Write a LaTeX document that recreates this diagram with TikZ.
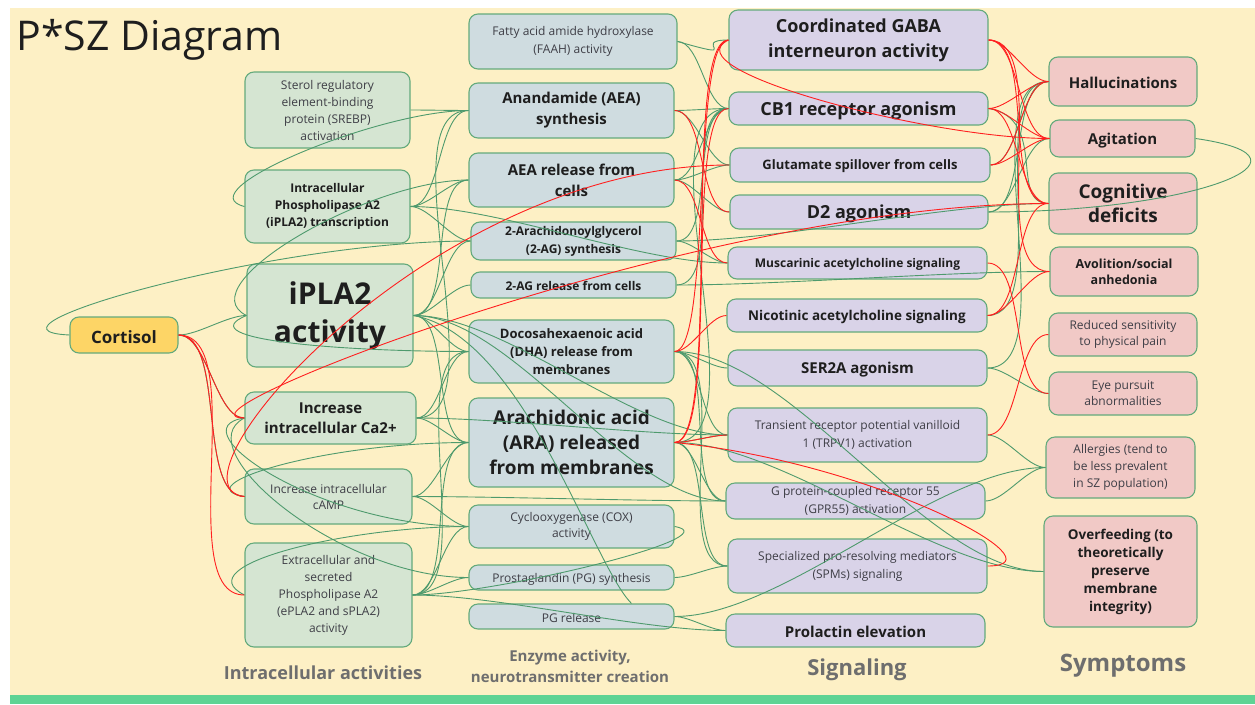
\documentclass[tikz,border=0pt]{standalone}
\usepackage{fontspec}
\setmainfont{Open Sans}
\definecolor{bgc}{HTML}{FDF0C5}
\definecolor{barc}{HTML}{5ED394}
\definecolor{bordc}{HTML}{64AA7C}
\definecolor{fa}{HTML}{D5E5D2}
\definecolor{fb}{HTML}{CFDCE0}
\definecolor{fc}{HTML}{D9D3E8}
\definecolor{fd}{HTML}{F1C9C6}
\definecolor{fcort}{HTML}{FDD566}
\definecolor{lgreen}{HTML}{4E9A6D}
\definecolor{lred}{HTML}{FF1F1F}
\definecolor{lbl}{HTML}{6E6E6E}
\definecolor{tdark}{HTML}{1E1E1E}
\definecolor{tnorm}{HTML}{3E3E46}
\newcommand{\myfs}[2]{\fontsize{#1}{#2}\selectfont}
\begin{document}
\begin{tikzpicture}[x=1pt,y=-1pt,
  box/.style={draw=bordc, line width=1.1pt, rounded corners=9pt, align=center, inner sep=2pt,
    execute at begin node={\rule{0pt}{1.0em}}},
  ca1/.style={box, fill=fa},
  cb2/.style={box, fill=fb},
  cc3/.style={box, fill=fc},
  cd4/.style={box, fill=fd},
  bt/.style={text=tdark, font=\bfseries},
  nt/.style={text=tnorm},
  gl/.style={draw=lgreen, line width=0.9pt, looseness=0.7},
  rl/.style={draw=lred, line width=0.9pt, looseness=0.7},
  collabel/.style={text=lbl, font=\bfseries, align=center}]
\useasboundingbox (0,0) rectangle (1255,704);
\fill[white] (0,0) rectangle (1255,704);
\fill[bgc] (10,8) rectangle (1255,695);
\fill[barc] (10,695) rectangle (1255,704);
\node[anchor=west, text=tdark, font=\myfs{41}{46}] (title) at (13,40) {P*SZ Diagram};

% column 1
\node[box, fill=fcort, bt, minimum width=108pt, minimum height=36pt, font=\bfseries\myfs{17}{20}] (cort) at (124,335) {Cortisol};
\node[ca1, nt, minimum width=165pt, minimum height=76pt, font=\myfs{12}{17}] (srebp) at (327.5,110) {Sterol regulatory\\element-binding\\protein (SREBP)\\activation};
\node[ca1, bt, minimum width=165pt, minimum height=73pt, font=\bfseries\myfs{12}{17}] (ipt) at (327.5,206.5) {Intracellular\\Phospholipase A2\\(iPLA2) transcription};
\node[ca1, bt, minimum width=166pt, minimum height=103pt, font=\bfseries\myfs{30}{38}] (ipa) at (330,315.5) {iPLA2\\activity};
\node[ca1, bt, minimum width=171pt, minimum height=52pt, font=\bfseries\myfs{15}{20}] (ca) at (330.5,418) {Increase\\intracellular Ca2+};
\node[ca1, nt, minimum width=167pt, minimum height=55pt, font=\myfs{12}{16}] (camp) at (328.5,496.5) {Increase intracellular\\cAMP};
\node[ca1, nt, minimum width=167pt, minimum height=104pt, font=\myfs{12}{17}] (epla) at (328.5,595) {Extracellular and\\secreted\\Phospholipase A2\\(ePLA2 and sPLA2)\\activity};
\node[collabel, font=\bfseries\myfs{18}{22}] (lab1) at (323,673) {Intracellular activities};

% column 2
\node[cb2, nt, minimum width=208pt, minimum height=55pt, font=\myfs{12}{18}] (faah) at (573,41.5) {Fatty acid amide hydroxylase\\(FAAH) activity};
\node[cb2, bt, minimum width=205pt, minimum height=55pt, font=\bfseries\myfs{15}{21}] (aeas) at (571.5,110.5) {Anandamide (AEA)\\synthesis};
\node[cb2, bt, minimum width=205pt, minimum height=54pt, font=\bfseries\myfs{15}{21}] (aear) at (571.5,180) {AEA release from\\cells};
\node[cb2, bt, minimum width=205pt, minimum height=38pt, font=\bfseries\myfs{12}{18}] (ags) at (573.5,241) {2-Arachidonoylglycerol\\(2-AG) synthesis};
\node[cb2, bt, minimum width=205pt, minimum height=26pt, font=\bfseries\myfs{12}{15}] (agr) at (573.5,285) {2-AG release from cells};
\node[cb2, bt, minimum width=205pt, minimum height=63pt, font=\bfseries\myfs{13}{18}] (dha) at (571.5,351.5) {Docosahexaenoic acid\\(DHA) release from\\membranes};
\node[cb2, bt, minimum width=205pt, minimum height=89pt, font=\bfseries\myfs{19}{25}] (ara) at (571.5,442.5) {Arachidonic acid\\(ARA) released\\from membranes};
\node[cb2, nt, minimum width=205pt, minimum height=43pt, font=\myfs{12}{16}] (cox) at (571.5,526.5) {Cyclooxygenase (COX)\\activity};
\node[cb2, nt, minimum width=205pt, minimum height=25pt, font=\myfs{12}{15}] (pgs) at (571.5,577.5) {Prostaglandin (PG) synthesis};
\node[cb2, nt, minimum width=205pt, minimum height=25pt, font=\myfs{12}{15}] (pgr) at (571.5,616.5) {PG release};
\node[collabel, font=\bfseries\myfs{15}{21}] (lab2) at (570,666) {Enzyme activity,\\neurotransmitter creation};

% column 3
\node[cc3, bt, minimum width=259pt, minimum height=60pt, font=\bfseries\myfs{18}{25}] (gaba) at (858.5,40) {Coordinated GABA\\interneuron activity};
\node[cc3, bt, minimum width=259pt, minimum height=33pt, font=\bfseries\myfs{18}{22}] (cb1) at (858.5,108.5) {CB1 receptor agonism};
\node[cc3, bt, minimum width=260pt, minimum height=34pt, font=\bfseries\myfs{13}{16}] (glu) at (860,165) {Glutamate spillover from cells};
\node[cc3, bt, minimum width=258pt, minimum height=34pt, font=\bfseries\myfs{18}{22}] (d2) at (859,212) {D2 agonism};
\node[cc3, bt, minimum width=259pt, minimum height=32pt, font=\bfseries\myfs{12}{15}] (mus) at (857.5,263) {Muscarinic acetylcholine signaling};
\node[cc3, bt, minimum width=260pt, minimum height=33pt, font=\bfseries\myfs{13.5}{16}] (nic) at (857,315.5) {Nicotinic acetylcholine signaling};
\node[cc3, bt, minimum width=259pt, minimum height=36pt, font=\bfseries\myfs{15}{18}] (ser) at (857.5,368) {SER2A agonism};
\node[cc3, nt, minimum width=259pt, minimum height=54pt, font=\myfs{12}{18}] (trpv) at (857.5,435) {Transient receptor potential vanilloid\\1 (TRPV1) activation};
\node[cc3, nt, minimum width=259pt, minimum height=36pt, font=\myfs{12}{18}] (gpr) at (855.5,501) {G protein-coupled receptor 55\\(GPR55) activation};
\node[cc3, nt, minimum width=259pt, minimum height=54pt, font=\myfs{12}{18}] (spm) at (857.5,566) {Specialized pro-resolving mediators\\(SPMs) signaling};
\node[cc3, bt, minimum width=259pt, minimum height=33pt, font=\bfseries\myfs{15}{18}] (prl) at (855.5,630.5) {Prolactin elevation};
\node[collabel, font=\bfseries\myfs{22}{26}] (lab3) at (857,670) {Signaling};

% column 4
\node[cd4, bt, minimum width=148pt, minimum height=49pt, font=\bfseries\myfs{15}{18}] (hal) at (1123,81.5) {Hallucinations};
\node[cd4, bt, minimum width=145pt, minimum height=37pt, font=\bfseries\myfs{15}{18}] (agi) at (1122.5,138.5) {Agitation};
\node[cd4, bt, minimum width=148pt, minimum height=61pt, font=\bfseries\myfs{19}{24}] (cog) at (1123,203.5) {Cognitive\\deficits};
\node[cd4, bt, minimum width=148pt, minimum height=49pt, font=\bfseries\myfs{12.5}{16}] (avo) at (1124,271.5) {Avolition/social\\anhedonia};
\node[cd4, nt, minimum width=148pt, minimum height=43pt, font=\myfs{12}{16}] (rsp) at (1123,334.5) {Reduced sensitivity\\to physical pain};
\node[cd4, nt, minimum width=148pt, minimum height=43pt, font=\myfs{12}{16}] (eye) at (1123,393.5) {Eye pursuit\\abnormalities};
\node[cd4, nt, minimum width=149pt, minimum height=61pt, font=\myfs{12}{17}] (alg) at (1120.5,467.5) {Allergies (tend to\\be less prevalent\\in SZ population)};
\node[cd4, bt, minimum width=153pt, minimum height=111pt, font=\bfseries\myfs{13.5}{18}] (ovf) at (1120.5,571.5) {Overfeeding (to\\theoretically\\preserve\\membrane\\integrity)};
\node[collabel, font=\bfseries\myfs{24}{28}] (lab4) at (1123,666) {Symptoms};

% green connectors east -> west
\foreach \a/\b in {srebp/aeas, ipt/aeas, ipt/aear, ipt/ags, ipa/aear, ipa/ags, ipa/agr, ipa/dha, ipa/ara,
  ca/aeas, ca/dha, ca/ara, camp/ara, camp/cox, epla/ara, epla/dha, epla/pgs, epla/cox,
  cort/ipa, cort/ca, cort/camp,
  ipt/mus, ipa/trpv, ca/trpv, camp/gpr, epla/prl, ipa/gpr,
  faah/cb1, aeas/cb1, aeas/glu, aear/cb1, aear/glu, aear/d2, ags/cb1, ags/mus, agr/cb1,
  dha/ser, dha/trpv, dha/gpr, dha/spm, ara/trpv, ara/gpr, ara/spm, ara/cb1, pgr/prl, pgs/spm,
  ara/ovf, pgr/alg, dha/ovf, ags/cog, agr/avo,
  d2/hal, d2/agi, ser/hal, ser/eye, trpv/alg, gpr/alg, glu/hal, nic/hal}
  \draw[gl] (\a.east) to[out=0,in=180] (\b.west);

% green loops
\draw[gl] (cort.west) .. controls +(-110,-5) and +(-200,0) .. (ags.west);
\draw[gl] (ipt.west) .. controls +(-60,-15) and +(-90,0) .. (aeas.west);
\draw[gl] (epla.west) .. controls +(-60,-30) and +(-120,0) .. (cox.west);
\draw[gl] (ipa.west) .. controls +(-60,-30) and +(-100,0) .. (aear.west);
\draw[gl] (ipa.west) .. controls +(-60,25) and +(-120,0) .. (dha.west);
\draw[gl] (ca.west) .. controls +(-70,10) and +(-150,0) .. (cox.west);
\draw[gl] (ca.west) .. controls +(-60,30) and +(-130,0) .. (pgs.west);
\draw[gl] (camp.west) .. controls +(-60,-10) and +(-150,0) .. (ara.west);
\draw[gl] (cox.east) .. controls +(60,10) and +(80,0) .. (epla.east);
\draw[gl] (agi.east) .. controls +(140,20) and +(200,0) .. (d2.east);
\draw[gl] (faah.east) .. controls +(70,20) and +(-40,0) .. (gaba.west);
\draw[gl] (cb1.east) .. controls +(60,10) and +(-40,0) .. (cog.west);
\draw[gl] (ipa.east) .. controls +(110,20) and +(-40,-40) .. ([xshift=60pt]pgr.north);

% red connectors east -> west
\foreach \a/\b in {cort/ca, cort/camp, cort/epla, aeas/d2, aear/mus, dha/nic, ara/trpv,
  gaba/hal, gaba/agi, gaba/cog, gaba/avo, cb1/hal, cb1/agi, cb1/cog, glu/agi, glu/hal,
  mus/eye, nic/cog, nic/avo, trpv/rsp}
  \draw[rl] (\a.east) to[out=0,in=180] (\b.west);

% red verticals and long lines
\draw[rl] (ara.east) to[out=0,in=180,looseness=0.3] (gaba.west);
\draw[rl] (dha.east) to[out=0,in=180,looseness=0.3] (gaba.west);
\draw[rl] (ara.east) to[out=0,in=180,looseness=0.35] (cb1.west);
\draw[rl] (gaba.west) .. controls +(-60,30) and +(-120,0) .. (agi.west);
\draw[rl] (ara.east) .. controls +(200,20) and +(80,0) .. (spm.east);
\draw[rl] (ca.west) .. controls +(-90,0) and +(-350,0) .. (cog.west);
\draw[rl] (camp.west) .. controls +(-90,-10) and +(-300,0) .. (glu.west);
\end{tikzpicture}
\end{document}
